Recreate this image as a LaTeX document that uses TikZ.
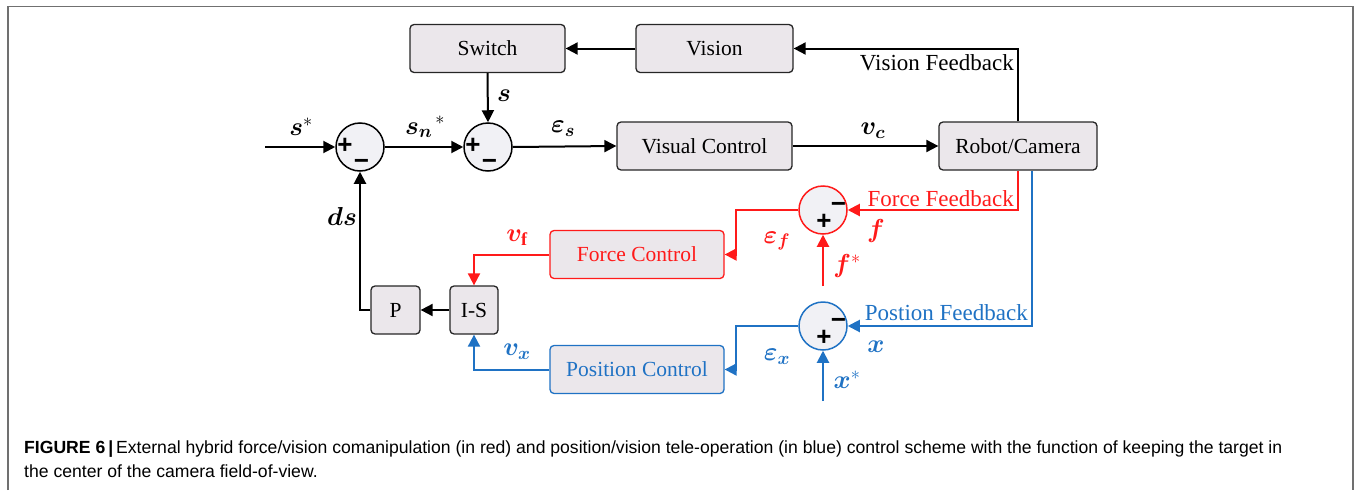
\RequirePackage{fix-cm}
\documentclass[tikz,border=0pt]{standalone}
\usepackage{fontspec}
\usepackage{bm}
\setmainfont{Liberation Serif}
\newfontfamily\capfont{Liberation Sans}
\usetikzlibrary{arrows.meta}
\definecolor{boxfill}{HTML}{EBE7EB}
\definecolor{circfill}{HTML}{F1F1F5}
\definecolor{fred}{HTML}{FF1A1A}
\definecolor{fblue}{HTML}{1F72C4}
\definecolor{framegray}{HTML}{707070}
\begin{document}
\begin{tikzpicture}[x=1pt,y=-1pt,
  blk/.style={draw=black!85,line width=1.3pt,fill=boxfill,rounded corners=4pt,minimum height=48pt,inner sep=0pt,font=\fontsize{21.5}{24}\selectfont},
  sumc/.style={circle,draw=black,line width=1.5pt,fill=circfill,minimum size=48pt,inner sep=0pt},
  conn/.style={line width=2pt,-{Triangle[length=12pt,width=12pt]}},
  lab/.style={font=\fontsize{26}{28}\selectfont,inner sep=0pt},
  fb/.style={font=\fontsize{23}{26}\selectfont,inner sep=0pt},
  sgn/.style={font=\capfont\bfseries\fontsize{26}{26}\selectfont,inner sep=0pt},
  capt/.style={font=\capfont\fontsize{17.6}{22}\selectfont,inner sep=0pt,anchor=base west}
]
\useasboundingbox (0,0) rectangle (1354,490);
\draw[framegray,line width=1.6pt] (8,490) -- (8,6.5) -- (1353,6.5) -- (1353,490);

% blocks
\node[blk,minimum width=155pt] (switch) at (487.5,48.5) {Switch};
\node[blk,minimum width=157pt] (vision) at (714.5,48.5) {Vision};
\node[blk,minimum width=175pt] (visual) at (704.5,146) {Visual Control};
\node[blk,minimum width=158pt] (robot) at (1018,146) {Robot/Camera};
\node[blk,minimum width=174pt,draw=fred,text=fred] (force) at (637,254.5) {Force Control};
\node[blk,minimum width=174pt,draw=fblue,text=fblue] (pos) at (637,369.5) {Position Control};
\node[blk,minimum width=48pt] (is) at (474,310) {I-S};
\node[blk,minimum width=49pt] (p) at (395.5,310) {P};

% summing junctions
\node[sumc] (sum1) at (360,147) {};
\node[sumc] (sum2) at (488,147) {};
\node[sumc,draw=fred] (sumf) at (823,210) {};
\node[sumc,draw=fblue] (sumx) at (823,326) {};

\node[sgn] at (345,146) {+};
\node[sgn] at (361.5,164) {−};
\node[sgn] at (473,146) {+};
\node[sgn] at (489.5,164) {−};
\node[sgn] at (838.5,207) {−};
\node[sgn] at (824,222) {+};
\node[sgn] at (838.5,323) {−};
\node[sgn] at (824,338) {+};

% free ends
\coordinate (sin) at (265,147);
\coordinate (fin) at (823,286);
\coordinate (xin) at (823,401);

% black connectors
\draw[conn] (sin) -- (sum1.west);
\draw[conn] (sum1.east) -- (sum2.west);
\draw[conn] (sum2.east) -- (visual.west);
\draw[conn] (visual.east) -- (robot.west);
\draw[conn] (robot.north) |- (vision.east);
\draw[conn] (vision.west) -- (switch.east);
\draw[conn] (switch.south) -- (sum2.north);
\draw[conn] (is.west) -- (p.east);
\draw[conn] (p.west) -| (sum1.south);

% red connectors
\draw[conn,fred] (robot.south) |- (sumf.east);
\draw[conn,fred] (fin) -- (sumf.south);
\draw[conn,fred] (sumf.west) -- ++(-62,0) |- (force.east);
\draw[conn,fred] (force.west) -| (is.north);

% blue connectors
\draw[conn,fblue] ([xshift=14pt]robot.south) |- (sumx.east);
\draw[conn,fblue] (xin) -- (sumx.south);
\draw[conn,fblue] (sumx.west) -- ++(-62,0) |- (pos.east);
\draw[conn,fblue] (pos.west) -| (is.south);

% labels
\node[lab] (ls) at (301,127) {$\bm{s}^{*}$};
\node[lab] (lsn) at (425,127) {${\bm{s_n}}^{\,*}$};
\node[lab] (lss) at (504,96) {$\bm{s}$};
\node[lab] (les) at (563,129) {$\bm{\varepsilon_s}$};
\node[lab] (lvc) at (873,131) {$\bm{v_c}$};
\node[lab] (lds) at (342,216) {$\bm{ds}$};
\node[fb,anchor=east] (lvf) at (1014,63) {Vision Feedback};
\node[fb,anchor=east,text=fred] (lff) at (1014,199) {Force Feedback};
\node[fb,anchor=east,text=fblue] (lpf) at (1028,313) {Postion Feedback};
\node[lab,text=fred] (lf) at (876,231) {$\bm{f}$};
\node[lab,text=fred] (lfs) at (847,266) {$\bm{f}^{*}$};
\node[lab,text=fred] (lef) at (777,241) {$\bm{\varepsilon_f}$};
\node[lab,text=fred] (lvff) at (517,238) {$\bm{v}_{\mathbf{f}}$};
\node[lab,text=fblue] (lx) at (876,347) {$\bm{x}$};
\node[lab,text=fblue] (lxs) at (847,380) {$\bm{x}^{*}$};
\node[lab,text=fblue] (lex) at (777,357) {$\bm{\varepsilon_x}$};
\node[lab,text=fblue] (lvx) at (517,352) {$\bm{v_x}$};

% caption
\node[capt] (cap1) at (24,453) {\textbf{FIGURE 6\,|\,}External hybrid force/vision comanipulation (in red) and position/vision tele-operation (in blue) control scheme with the function of keeping the target in};
\node[capt] (cap2) at (24,477) {the center of the camera field-of-view.};
\end{tikzpicture}
\end{document}
